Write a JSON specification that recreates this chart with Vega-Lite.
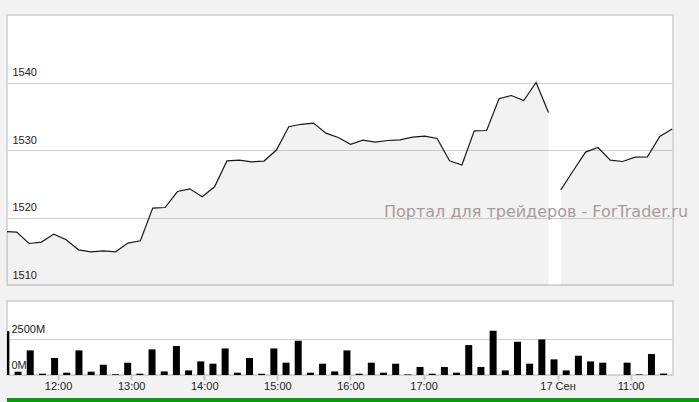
{
  "$schema": "https://vega.github.io/schema/vega-lite/v6.json",
  "background": "#f2f2f2",
  "padding": {"left": 0, "top": 14, "right": 0, "bottom": 0},
  "config": {
    "font": "Liberation Sans",
    "view": {"stroke": "#d8d8d8", "strokeWidth": 2, "fill": "#ffffff"},
    "axis": {"labelFont": "Liberation Sans", "labelFontSize": 11, "labelColor": "#222222", "title": null}
  },
  "data": {
    "values": [
      {"i": 0, "p": 1517.93, "v": 3050, "seg": "a"},
      {"i": 1, "p": 1517.84, "v": 230, "seg": "a"},
      {"i": 2, "p": 1516.15, "v": 1710, "seg": "a"},
      {"i": 3, "p": 1516.36, "v": 90, "seg": "a"},
      {"i": 4, "p": 1517.54, "v": 1180, "seg": "a"},
      {"i": 5, "p": 1516.70, "v": 160, "seg": "a"},
      {"i": 6, "p": 1515.21, "v": 1710, "seg": "a"},
      {"i": 7, "p": 1514.92, "v": 230, "seg": "a"},
      {"i": 8, "p": 1515.07, "v": 715, "seg": "a"},
      {"i": 9, "p": 1514.92, "v": 50, "seg": "a"},
      {"i": 10, "p": 1516.21, "v": 855, "seg": "a"},
      {"i": 11, "p": 1516.55, "v": 90, "seg": "a"},
      {"i": 12, "p": 1521.39, "v": 1780, "seg": "a"},
      {"i": 13, "p": 1521.48, "v": 250, "seg": "a"},
      {"i": 14, "p": 1523.85, "v": 2010, "seg": "a"},
      {"i": 15, "p": 1524.25, "v": 320, "seg": "a"},
      {"i": 16, "p": 1523.07, "v": 945, "seg": "a"},
      {"i": 17, "p": 1524.55, "v": 785, "seg": "a"},
      {"i": 18, "p": 1528.38, "v": 1845, "seg": "a"},
      {"i": 19, "p": 1528.50, "v": 160, "seg": "a"},
      {"i": 20, "p": 1528.25, "v": 1180, "seg": "a"},
      {"i": 21, "p": 1528.36, "v": 90, "seg": "a"},
      {"i": 22, "p": 1530.00, "v": 1845, "seg": "a"},
      {"i": 23, "p": 1533.44, "v": 855, "seg": "a"},
      {"i": 24, "p": 1533.81, "v": 2380, "seg": "a"},
      {"i": 25, "p": 1533.99, "v": 160, "seg": "a"},
      {"i": 26, "p": 1532.50, "v": 785, "seg": "a"},
      {"i": 27, "p": 1531.85, "v": 250, "seg": "a"},
      {"i": 28, "p": 1530.84, "v": 1710, "seg": "a"},
      {"i": 29, "p": 1531.47, "v": 90, "seg": "a"},
      {"i": 30, "p": 1531.17, "v": 855, "seg": "a"},
      {"i": 31, "p": 1531.41, "v": 160, "seg": "a"},
      {"i": 32, "p": 1531.51, "v": 785, "seg": "a"},
      {"i": 33, "p": 1531.91, "v": 40, "seg": "a"},
      {"i": 34, "p": 1532.06, "v": 555, "seg": "a"},
      {"i": 35, "p": 1531.70, "v": 90, "seg": "a"},
      {"i": 36, "p": 1528.40, "v": 555, "seg": "a"},
      {"i": 37, "p": 1527.78, "v": 160, "seg": "a"},
      {"i": 38, "p": 1532.84, "v": 2080, "seg": "a"},
      {"i": 39, "p": 1532.89, "v": 555, "seg": "a"},
      {"i": 40, "p": 1537.59, "v": 3075, "seg": "a"},
      {"i": 41, "p": 1538.07, "v": 320, "seg": "a"},
      {"i": 42, "p": 1537.33, "v": 2310, "seg": "a"},
      {"i": 43, "p": 1540.00, "v": 785, "seg": "a"},
      {"i": 44, "p": 1535.56, "v": 2470, "seg": "a"},
      {"i": 44.5, "p": null, "v": null, "seg": "a"},
      {"i": 45, "p": 1524.10, "v": 1085, "seg": "b"},
      {"i": 46, "p": 1526.92, "v": 320, "seg": "b"},
      {"i": 47, "p": 1529.69, "v": 1340, "seg": "b"},
      {"i": 48, "p": 1530.37, "v": 945, "seg": "b"},
      {"i": 49, "p": 1528.50, "v": 855, "seg": "b"},
      {"i": 50, "p": 1528.30, "v": 0, "seg": "b"},
      {"i": 51, "p": 1528.95, "v": 855, "seg": "b"},
      {"i": 52, "p": 1528.99, "v": 40, "seg": "b"},
      {"i": 53, "p": 1532.00, "v": 1455, "seg": "b"},
      {"i": 54, "p": 1533.10, "v": 100, "seg": "b"}
    ]
  },
  "spacing": 6,
  "vconcat": [
    {
      "spacing": 14,
      "vconcat": [
        {
          "width": 666,
          "height": 270,
          "layer": [
            {
              "mark": {
                "type": "area",
                "clip": true,
                "color": {
                  "gradient": "linear",
                  "x1": 0, "y1": 0, "x2": 0, "y2": 1,
                  "stops": [
                    {"offset": 0, "color": "rgba(0,0,0,0.05)"},
                    {"offset": 1, "color": "rgba(0,0,0,0.08)"}
                  ]
                }
              },
              "encoding": {
                "x": {"field": "i", "type": "quantitative", "scale": {"domain": [0.216, 54.07], "nice": false, "zero": false}, "axis": null},
                "y": {
                  "field": "p", "type": "quantitative",
                  "scale": {"domain": [1510, 1550], "nice": false, "zero": false},
                  "axis": {
                    "values": [1510, 1520, 1530, 1540],
                    "format": "d",
                    "grid": true, "gridColor": "#d0d0d0", "gridWidth": 1,
                    "ticks": false, "tickSize": 0, "domain": false,
                    "labelAlign": "left", "labelPadding": -5, "labelBaseline": "alphabetic", "labelOffset": -7,
                    "minExtent": 6, "maxExtent": 6
                  }
                },
                "detail": {"field": "seg", "type": "nominal"}
              }
            },
            {
              "mark": {"type": "line", "clip": true, "color": "#1a1a1a", "strokeWidth": 1.2},
              "encoding": {
                "x": {"field": "i", "type": "quantitative"},
                "y": {"field": "p", "type": "quantitative"},
                "detail": {"field": "seg", "type": "nominal"}
              }
            },
            {
              "data": {"values": [{"t": "Портал для трейдеров - ForTrader.ru"}]},
              "mark": {"type": "text", "font": "DejaVu Sans", "fontSize": 16, "color": "#a89a9a", "align": "left", "baseline": "middle"},
              "encoding": {
                "x": {"datum": 30.7, "type": "quantitative"},
                "y": {"datum": 1520.8, "type": "quantitative"},
                "text": {"field": "t"}
              }
            }
          ]
        },
        {
          "width": 666,
          "height": 74,
          "mark": {"type": "bar", "color": "#000000", "size": 7, "clip": true, "xOffset": -3.5},
          "encoding": {
            "x": {
              "field": "i", "type": "quantitative",
              "scale": {"domain": [0.216, 54.07], "nice": false, "zero": false},
              "axis": {
                "values": [4, 10, 16, 22, 28, 34, 45, 51],
                "labelExpr": "datum.value == 4 ? '12:00' : datum.value == 10 ? '13:00' : datum.value == 16 ? '14:00' : datum.value == 22 ? '15:00' : datum.value == 28 ? '16:00' : datum.value == 34 ? '17:00' : datum.value == 45 ? '17 Сен' : '11:00'",
                "grid": false, "domain": false, "ticks": true, "tickColor": "#c8c8c8", "tickSize": 5, "tickWidth": 2,
                "labelPadding": 0, "labelFlush": false, "labelOverlap": false
              }
            },
            "y": {
              "field": "v", "type": "quantitative",
              "scale": {"domain": [0, 5140], "nice": false},
              "axis": {
                "values": [0, 2500],
                "labelExpr": "datum.value + 'M'",
                "grid": true, "gridColor": "#d0d0d0", "gridWidth": 1,
                "ticks": false, "tickSize": 0, "domain": false,
                "labelAlign": "left", "labelPadding": -4, "labelBaseline": "alphabetic", "labelOffset": -7,
                "minExtent": 6, "maxExtent": 6
              }
            }
          }
        }
      ]
    },
    {
      "width": 699,
      "height": 5,
      "view": {"stroke": null, "fill": null},
      "data": {"values": [{"a": 0, "b": 1}]},
      "mark": {"type": "rect", "color": "#0b9a0b"},
      "encoding": {
        "x": {"field": "a", "type": "quantitative", "scale": {"domain": [0, 1]}, "axis": null},
        "x2": {"field": "b"},
        "y": {"field": "a", "type": "quantitative", "scale": {"domain": [0, 1]}, "axis": null},
        "y2": {"field": "b"}
      }
    }
  ]
}
